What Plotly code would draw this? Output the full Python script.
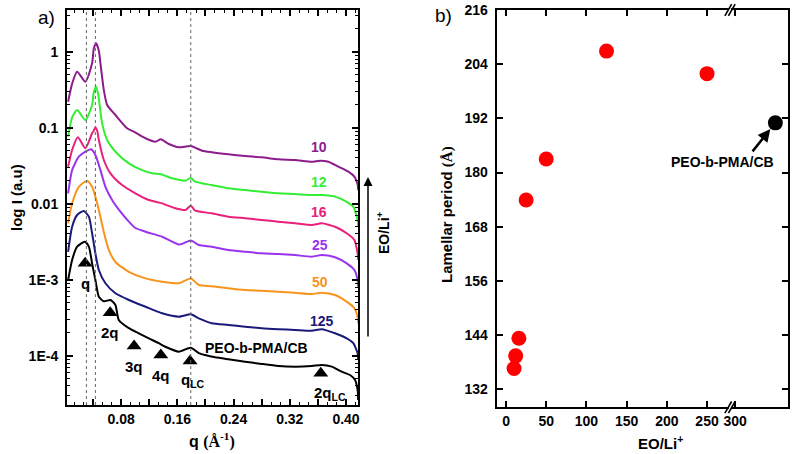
import numpy as np
import plotly.graph_objects as go

# ---------------- data: panel a (SAXS profiles) ----------------
q_10 = [0.0046, 0.0103, 0.0174, 0.0292, 0.0387, 0.0412, 0.0444, 0.0483, 0.0506, 0.0554, 0.0601, 0.0719, 0.0885, 0.0981,
        0.1146, 0.1288, 0.1365, 0.1479, 0.1621, 0.1791, 0.1952, 0.2090, 0.2326, 0.2564, 0.2801, 0.3038,
        0.3275, 0.3513, 0.3631, 0.3749, 0.3891, 0.4033, 0.4119, 0.4165, 0.4173]
I_10 = [0.220, 0.38, 0.546, 0.403, 0.704, 1.11, 1.29, 1.03, 0.704, 0.313, 0.199, 0.147, 0.0982, 0.0886,
        0.0726, 0.0654, 0.0704, 0.0610, 0.0552, 0.0574, 0.0498, 0.0475, 0.0447, 0.0424, 0.0408, 0.0384,
        0.0376, 0.0357, 0.0368, 0.0357, 0.0307, 0.0264, 0.0227, 0.0180, 0.0151]

q_12 = [0.0046, 0.0103, 0.0174, 0.0292, 0.0387, 0.0412, 0.0444, 0.0476, 0.0491, 0.0530, 0.0601, 0.0719, 0.0910, 0.1099,
        0.1241, 0.1359, 0.1525, 0.1715, 0.1791, 0.1853, 0.2090, 0.2326, 0.2564, 0.2801, 0.3038, 0.3275,
        0.3513, 0.3655, 0.3844, 0.4010, 0.4104, 0.4165, 0.4173]
I_12 = [0.0762, 0.137, 0.171, 0.126, 0.199, 0.295, 0.346, 0.269, 0.209, 0.114, 0.0689, 0.0483, 0.0340, 0.0277,
        0.0251, 0.0246, 0.0216, 0.0201, 0.0218, 0.0195, 0.0176, 0.0160, 0.0151, 0.0144, 0.0137, 0.0134,
        0.0130, 0.0130, 0.0124, 0.0106, 0.00914, 0.00611, 0.00498]

q_16 = [0.0046, 0.0103, 0.0184, 0.0292, 0.0387, 0.0409, 0.0434, 0.0461, 0.0483, 0.0554, 0.0648, 0.0814, 0.1003, 0.1194,
        0.1383, 0.1572, 0.1715, 0.1791, 0.1857, 0.2090, 0.2326, 0.2564, 0.2801, 0.3038, 0.3275, 0.3513,
        0.3655, 0.3844, 0.4010, 0.4119, 0.4165, 0.4173]
I_16 = [0.0307, 0.0509, 0.0748, 0.0536, 0.0844, 0.0905, 0.101, 0.0905, 0.0689, 0.0376, 0.0251, 0.0176, 0.0137, 0.0112,
        0.0101, 0.00870, 0.00826, 0.00941, 0.00809, 0.00748, 0.00675, 0.00643, 0.00611, 0.00580, 0.00552, 0.00525,
        0.00552, 0.00498, 0.00408, 0.00333, 0.00222, 0.00182]

q_25 = [0.0046, 0.0103, 0.0198, 0.0292, 0.0373, 0.0434, 0.0506, 0.0577, 0.0672, 0.0790, 0.0910, 0.1003,
        0.1146, 0.1383, 0.1629, 0.1791, 0.1905, 0.2090, 0.2326, 0.2564, 0.2801, 0.3038, 0.3275, 0.3513,
        0.3655, 0.3844, 0.4010, 0.4119, 0.4165, 0.4173]
I_25 = [0.0137, 0.0277, 0.0415, 0.0483, 0.0520, 0.0437, 0.0277, 0.0167, 0.0112, 0.00785, 0.00580, 0.00479,
        0.00428, 0.00368, 0.00290, 0.00328, 0.00286, 0.00272, 0.00246, 0.00233, 0.00222, 0.00218, 0.00211, 0.00201,
        0.00211, 0.00197, 0.00164, 0.00134, 0.000991, 0.000809]

q_50 = [0.0046, 0.0103, 0.0198, 0.0316, 0.0387, 0.0434, 0.0483, 0.0554, 0.0625, 0.0719, 0.0910, 0.1146,
        0.1383, 0.1621, 0.1791, 0.1905, 0.2090, 0.2326, 0.2564, 0.2801, 0.3038, 0.3275, 0.3513, 0.3655,
        0.3844, 0.4010, 0.4119, 0.4165, 0.4173]
I_50 = [0.00552, 0.0101, 0.0167, 0.0201, 0.0167, 0.0124, 0.00826, 0.00424, 0.00246, 0.00171, 0.00127, 0.00104,
        0.000942, 0.000897, 0.00104, 0.000852, 0.000820, 0.000771, 0.000732, 0.000717, 0.000695, 0.000674, 0.000648, 0.000674,
        0.000629, 0.000514, 0.000421, 0.000326, 0.000267]

q_125 = [0.0046, 0.0103, 0.0174, 0.0269, 0.0341, 0.0387, 0.0434, 0.0483, 0.0577, 0.0719, 0.0910, 0.1146,
         0.1383, 0.1621, 0.1791, 0.1905, 0.2090, 0.2326, 0.2564, 0.2801, 0.3038, 0.3275, 0.3513, 0.3655,
         0.3844, 0.4010, 0.4104, 0.4165, 0.4173]
I_125 = [0.00233, 0.00498, 0.00710, 0.00802, 0.00675, 0.00408, 0.00222, 0.00134, 0.000897, 0.000662, 0.000541, 0.000441,
         0.000361, 0.000326, 0.000350, 0.000310, 0.000267, 0.000254, 0.000241, 0.000230, 0.000223, 0.000218, 0.000213, 0.000223,
         0.000197, 0.000169, 0.000146, 0.000108, 0.0000878]

q_cb = [0.0046, 0.0103, 0.0174, 0.0284, 0.0341, 0.0387, 0.0434, 0.0483, 0.0554, 0.0648, 0.0719, 0.0767,
        0.0910, 0.1052, 0.1194, 0.1336, 0.1430, 0.1621, 0.1791, 0.1905, 0.1995, 0.2137, 0.2326, 0.2564,
        0.2801, 0.3038, 0.3275, 0.3513, 0.3655, 0.3797, 0.3939, 0.4057, 0.4129, 0.4165, 0.4173]
I_cb = [0.000991, 0.00182, 0.00272, 0.00316, 0.00272, 0.00164, 0.000991, 0.000598, 0.000520, 0.000541, 0.000465, 0.000295,
        0.000230, 0.000197, 0.000169, 0.000146, 0.000131, 0.000113, 0.000127, 0.000108, 0.000102, 0.0000953, 0.0000897, 0.0000834,
        0.0000778, 0.0000732, 0.0000717, 0.0000732, 0.0000755, 0.0000717, 0.0000616, 0.0000557, 0.0000479, 0.0000354, 0.0000261]

curve_labels = ["10", "12", "16", "25", "50", "125", "PEO-b-PMA/CB"]
curve_colors = ["#8c1c8c", "#33ee33", "#e8207a", "#9933ee", "#f7941d", "#1a1a7a", "#000000"]
label_q = [0.3617, 0.3617, 0.3617, 0.3631, 0.3631, 0.3660, 0.2730]
label_I = [0.0562, 0.0195, 0.00778, 0.00286, 0.000925, 0.000289, 0.000127]

peak_names = ["q", "2q", "3q", "4q", "q<sub>LC</sub>", "2q<sub>LC</sub>"]
peak_q = [0.0288, 0.0644, 0.0985, 0.1365, 0.1781, 0.3641]
peak_I = [0.00164, 0.000368, 0.000134, 0.000102, 0.0000852, 0.0000587]
guide_q = [0.0306, 0.0434, 0.1791]

q_ticks = [0.04, 0.08, 0.12, 0.16, 0.20, 0.24, 0.28, 0.32, 0.36, 0.40]
q_ticktext = ["", "0.08", "", "0.16", "", "0.24", "", "0.32", "", "0.40"]
I_ticks = [1e-4, 1e-3, 1e-2, 1e-1, 1]
I_ticktext = ["1E-4", "1E-3", "0.01", "0.1", "1"]

# ---------------- data: panel b (lamellar period) ----------------
eo_li = [10, 12, 16, 25, 50, 125, 250]
period = [136.6, 139.4, 143.3, 173.9, 183.0, 206.9, 201.9]
neat_eo_li = [350]          # neat PEO-b-PMA/CB placed after the axis break
neat_period = [191.0]
eo_ticks = [0, 50, 100, 150, 200, 250, 300]
period_ticks = [132, 144, 156, 168, 180, 192, 204, 216]

# broken x axis: values above the break are shifted left by GAP
BREAK = 279.0
GAP = 15.0
def brk(v):
    return [x if x < BREAK else x - GAP for x in v]

W, H = 795, 454
def px(x):
    return x / W
def py(y):
    return 1 - y / H

FONT = "Liberation Sans, Arial, sans-serif"
bold = dict(family=FONT, size=14, color="black", weight="bold")

fig = go.Figure()

series = [(q_10, I_10), (q_12, I_12), (q_16, I_16), (q_25, I_25), (q_50, I_50), (q_125, I_125), (q_cb, I_cb)]
for (qq, ii), col in zip(series, curve_colors):
    fig.add_trace(go.Scatter(x=qq, y=ii, mode="lines", xaxis="x", yaxis="y",
                             line=dict(color=col, width=2, shape="spline", smoothing=0.6),
                             hoverinfo="skip"))

fig.add_trace(go.Scatter(x=peak_q, y=peak_I, mode="markers", xaxis="x", yaxis="y",
                         marker=dict(symbol="triangle-up", size=13, color="black"), hoverinfo="skip"))

fig.add_trace(go.Scatter(x=brk(eo_li), y=period, mode="markers", xaxis="x2", yaxis="y2",
                         marker=dict(color="#ff0000", size=15, line=dict(width=0))))
fig.add_trace(go.Scatter(x=brk(neat_eo_li), y=neat_period, mode="markers", xaxis="x2", yaxis="y2",
                         marker=dict(color="black", size=15, line=dict(width=0))))

minor_log = [m * 10.0 ** e for e in range(-5, 1) for m in range(2, 10)]

axis_common = dict(showline=True, linewidth=2, linecolor="black", mirror="ticks",
                   ticks="inside", tickcolor="black", tickwidth=1.5, ticklen=6,
                   showgrid=False, zeroline=False, tickfont=bold, automargin=False)

fig.update_layout(
    template="none",
    width=W, height=H, margin=dict(l=0, r=0, t=0, b=0, autoexpand=False), autosize=False,
    paper_bgcolor="white", plot_bgcolor="white", showlegend=False,
    xaxis=dict(domain=[px(67), px(358.3)], range=[0.003, 0.4175], anchor="y",
               tickmode="array", tickvals=q_ticks, ticktext=q_ticktext,
               minor=dict(ticks="inside", ticklen=3, tickwidth=1.2, tickcolor="black",
                          dtick=0.04 / 3, tick0=0),
               **axis_common),
    yaxis=dict(domain=[py(405), py(10)], type="log", range=[-4.649, 0.549], anchor="x",
               tickmode="array", tickvals=I_ticks, ticktext=I_ticktext, ticklabelstandoff=4,
               minor=dict(ticks="inside", ticklen=3, tickwidth=1.2, tickcolor="black",
                          tickmode="array", tickvals=minor_log),
               **axis_common),
    xaxis2=dict(domain=[px(496.7), px(788.3)], range=[-11.6, 351.1], anchor="y2",
                tickmode="array", tickvals=brk(eo_ticks), ticktext=[str(t) for t in eo_ticks],
                **axis_common),
    yaxis2=dict(domain=[py(407.3), py(10)], range=[128, 216], anchor="x2",
                tickmode="array", tickvals=period_ticks, ticklabelstandoff=4,
                **axis_common),
)

shapes = []
for g in guide_q:
    shapes.append(dict(type="line", xref="x", yref="y domain", x0=g, x1=g, y0=0, y1=1,
                       line=dict(color="#666666", width=1, dash="dot")))
# axis break marks on panel b
bx = BREAK - 0.4
for yb in (py(407.3), py(10)):
    shapes.append(dict(type="rect", xref="x2", yref="paper", x0=bx - 1.5, x1=bx + 1.5,
                       y0=yb - 0.004, y1=yb + 0.004, fillcolor="white", line=dict(width=0), layer="above"))
    for off in (-2.2, 2.2):
        shapes.append(dict(type="line", xref="x2", yref="paper",
                           x0=bx + off - 4.2, x1=bx + off + 4.2, y0=yb - 0.0128, y1=yb + 0.0128,
                           line=dict(color="black", width=1.6), layer="above"))
fig.update_layout(shapes=shapes)

C = dict(xanchor="center", yanchor="middle", showarrow=False)
ann = []
for name, qv, iv, col in zip(curve_labels, label_q, label_I, curve_colors):
    ann.append(dict(x=qv, y=np.log10(iv), xref="x", yref="y", text=name,
                    font=dict(family=FONT, size=14, color=col, weight="bold"), **C))
peak_dx = [0, 0, 0, 0, 3, 9]
for name, qv, iv, dx in zip(peak_names, peak_q, peak_I, peak_dx):
    ann.append(dict(x=qv, y=np.log10(iv), xref="x", yref="y", text=name,
                    yshift=-20, xshift=dx, font=dict(family=FONT, size=15, color="black", weight="bold"), **C))

ann += [
    dict(x=px(46), y=py(18), xref="paper", yref="paper", text="a)",
         font=dict(family=FONT, size=19, color="black"), **C),
    dict(x=px(443), y=py(15), xref="paper", yref="paper", text="b)",
         font=dict(family=FONT, size=19, color="black"), **C),
    dict(x=px(16), y=py(198), xref="paper", yref="paper", text="log I (a.u)", textangle=-90,
         font=dict(family=FONT, size=15, color="black", weight="bold"), **C),
    dict(x=px(212), y=py(440), xref="paper", yref="paper",
         text="q <span style='font-family:Liberation Serif'>(Å<sup>-1</sup>)</span>",
         font=dict(family=FONT, size=16, color="black", weight="bold"), **C),
    dict(x=px(447), y=py(215), xref="paper", yref="paper",
         text="Lamellar period <span style='font-family:Liberation Serif'>(Å)</span>", textangle=-90,
         font=dict(family=FONT, size=15, color="black", weight="bold"), **C),
    dict(x=px(660), y=py(442), xref="paper", yref="paper", text="EO/Li<sup>+</sup>",
         font=dict(family=FONT, size=15, color="black", weight="bold"), **C),
    dict(x=px(383), y=py(233), xref="paper", yref="paper", text="EO/Li<sup>+</sup>", textangle=-90,
         font=dict(family=FONT, size=14, color="black", weight="bold"), **C),
    dict(x=px(722), y=py(162), xref="paper", yref="paper", text="PEO-b-PMA/CB",
         font=dict(family=FONT, size=14, color="black", weight="bold"), **C),
    # EO/Li+ arrow of panel a
    dict(x=px(368), y=py(177), xref="paper", yref="paper", text="", showarrow=True,
         ax=0, ay=161, arrowhead=2, arrowsize=1.2, arrowwidth=1.5, arrowcolor="black"),
    # arrow to the neat sample in panel b
    dict(x=brk(neat_eo_li)[0], y=neat_period[0], xref="x2", yref="y2", text="", showarrow=True,
         ax=-24, ay=30, standoff=8, arrowhead=2, arrowsize=1, arrowwidth=2.5, arrowcolor="black"),
]
fig.update_layout(annotations=ann)

fig.write_html("out.html", config={"displayModeBar": False},
               post_script="document.body.style.margin='0px';document.body.style.overflow='hidden';")
